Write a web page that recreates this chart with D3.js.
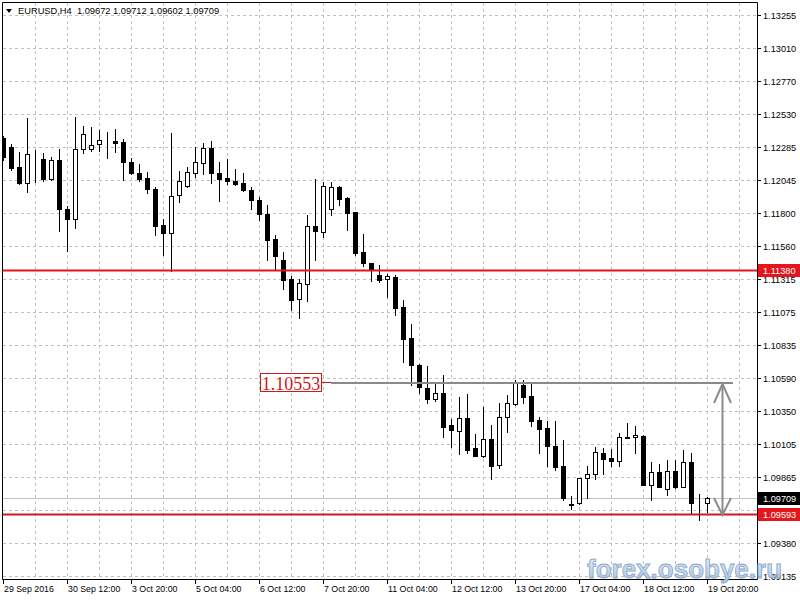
<!DOCTYPE html>
<html><head><meta charset="utf-8">
<script src="https://cdn.jsdelivr.net/npm/d3@7/dist/d3.min.js"></script>
<style>html,body{margin:0;padding:0;background:#fff;}svg{display:block;}</style>
</head><body>
<svg id="chart" width="800" height="600"></svg>
<script>
// ---- DATA ----
const symbolTitle = "EURUSD,H4";
const headerValues = "1.09672 1.09712 1.09602 1.09709";
const openP = [1.12352,1.12283,1.12137,1.12019,1.12227,1.12195,1.12048,1.12190,1.11828,1.11755,
1.12269,1.12269,1.12305,1.12337,1.12330,1.12320,1.12178,1.12097,1.12058,1.11977,
1.11711,1.11652,1.11930,1.11999,1.12098,1.12166,1.12276,1.12092,1.12056,1.12036,
1.12019,1.11970,1.11896,1.11794,1.11610,1.11456,1.11314,1.11166,1.11277,1.11705,
1.11664,1.11828,1.11992,1.11911,1.11808,1.11512,1.11431,1.11346,1.11314,1.11333,
1.11113,1.10881,1.10685,1.10513,1.10433,1.10477,1.10244,1.10202,1.10293,1.10073,
1.10016,1.10139,1.09950,1.10300,1.10396,1.10538,1.10457,1.10281,1.10220,1.10090,
1.09943,1.09667,1.09669,1.09853,1.09882,1.10036,1.09999,1.09982,1.10154,1.10154,
1.10163,1.09803,1.09897,1.09776,1.09904,1.09791,1.09970,1.09669,1.09672];
const highP = [1.12366,1.12308,1.12251,1.12501,1.12264,1.12244,1.12214,1.12271,1.11852,1.12508,
1.12440,1.12435,1.12410,1.12398,1.12416,1.12342,1.12203,1.12161,1.12104,1.11990,
1.11757,1.12391,1.12109,1.12141,1.12288,1.12313,1.12330,1.12173,1.12195,1.12122,
1.12092,1.11990,1.11921,1.11860,1.11639,1.11517,1.11338,1.11318,1.11786,1.12048,
1.12029,1.12026,1.11999,1.11921,1.11810,1.11643,1.11433,1.11419,1.11351,1.11346,
1.11162,1.10986,1.10692,1.10674,1.10560,1.10611,1.10286,1.10447,1.10472,1.10178,
1.10374,1.10244,1.10403,1.10464,1.10574,1.10574,1.10555,1.10305,1.10276,1.10273,
1.10134,1.09723,1.09855,1.09943,1.10082,1.10073,1.10066,1.10183,1.10256,1.10237,
1.10171,1.09970,1.09958,1.09987,1.09987,1.10060,1.10036,1.09735,1.09712];
const lowP = [1.12190,1.12117,1.12014,1.11957,1.12031,1.12038,1.12043,1.11671,1.11524,1.11689,
1.12244,1.12258,1.12258,1.12203,1.12251,1.12043,1.12087,1.12036,1.11950,1.11642,
1.11492,1.11377,1.11880,1.11990,1.12068,1.12087,1.12023,1.11891,1.12014,1.12007,
1.11965,1.11830,1.11750,1.11456,1.11390,1.11241,1.11089,1.11033,1.11157,1.11456,
1.11627,1.11783,1.11863,1.11676,1.11492,1.11415,1.11301,1.11292,1.11182,1.11052,
1.10709,1.10538,1.10481,1.10402,1.10420,1.10158,1.10085,1.10031,1.10041,1.10016,
1.10011,1.09845,1.09926,1.10195,1.10390,1.10403,1.10239,1.10036,1.09943,1.09914,
1.09693,1.09627,1.09661,1.09710,1.09845,1.09882,1.09943,1.09945,1.10146,1.10036,
1.09800,1.09693,1.09789,1.09730,1.09779,1.09789,1.09600,1.09546,1.09602];
const closeP = [1.12212,1.12129,1.12023,1.12234,1.12230,1.12051,1.12190,1.11828,1.11755,1.12269,
1.12381,1.12300,1.12337,1.12335,1.12317,1.12173,1.12097,1.12053,1.11975,1.11708,
1.11652,1.11928,1.12036,1.12100,1.12174,1.12276,1.12092,1.12053,1.12038,1.12016,
1.11970,1.11896,1.11790,1.11603,1.11485,1.11309,1.11162,1.11285,1.11709,1.11671,
1.11999,1.11990,1.11907,1.11803,1.11509,1.11431,1.11390,1.11309,1.11338,1.11105,
1.10876,1.10685,1.10525,1.10433,1.10477,1.10231,1.10207,1.10293,1.10060,1.10019,
1.10139,1.09943,1.10305,1.10403,1.10555,1.10452,1.10276,1.10217,1.10092,1.09938,
1.09706,1.09660,1.09853,1.09882,1.10043,1.09996,1.09982,1.10154,1.10152,1.10171,
1.09803,1.09897,1.09791,1.09908,1.09791,1.09970,1.09669,1.09672,1.09709];
const priceTicks = ["1.13255","1.13010","1.12770","1.12530","1.12285","1.12045","1.11800","1.11560","1.11315",
"1.11075","1.10835","1.10590","1.10350","1.10105","1.09865","1.09620","1.09380","1.09135"];
const timeTickIndex = [0,8,16,24,32,40,48,56,64,72,80,88];
const timeTickLabels = ["29 Sep 2016","30 Sep 12:00","3 Oct 20:00","5 Oct 04:00","6 Oct 12:00","7 Oct 20:00",
"11 Oct 04:00","12 Oct 12:00","13 Oct 20:00","17 Oct 04:00","18 Oct 12:00","19 Oct 20:00"];
const redLevels = [1.11380, 1.09593];
const bidLevel = 1.09709;
const targetLevel = 1.10553;
const targetText = "1.10553";
const watermark = "forex.osobye.ru";

// ---- LAYOUT ----
const L = 3, R = 757, T = 3, B = 579;
const svg = d3.select("#chart");
const font = "'Liberation Sans', Arial, sans-serif";
const y = d3.scaleLinear().domain([1.13255, 1.09135]).range([15, 576]);
const x = d3.scaleLinear().domain([0, 88]).range([3, 707]);
const ry = v => Math.round(y(v));
const cx = k => Math.round(x(k));

svg.append("rect").attr("width",800).attr("height",600).attr("fill","#fff");
svg.append("defs").append("clipPath").attr("id","plot")
  .append("rect").attr("x",L).attr("y",T).attr("width",R-L).attr("height",B-T);
const defs = svg.select("defs");
const grad = defs.append("linearGradient").attr("id","wm").attr("x1",0).attr("y1",0).attr("x2",0).attr("y2",1);
grad.append("stop").attr("offset","0").attr("stop-color","#e6eff9");
grad.append("stop").attr("offset","0.5").attr("stop-color","#c3d5ec");
grad.append("stop").attr("offset","1").attr("stop-color","#9fbbdf");

const plot = svg.append("g").attr("clip-path","url(#plot)");

// grid
const gridK = d3.range(4, 93, 4);
plot.selectAll("line.vg").data(gridK).enter().append("line")
  .attr("x1",k=>cx(k)+0.5).attr("x2",k=>cx(k)+0.5).attr("y1",T).attr("y2",B)
  .attr("stroke","#c0c0c0").attr("stroke-dasharray","3,3");
plot.selectAll("line.hg").data(priceTicks).enter().append("line")
  .attr("x1",L).attr("x2",R).attr("y1",d=>ry(+d)+0.5).attr("y2",d=>ry(+d)+0.5)
  .attr("stroke","#c0c0c0").attr("stroke-dasharray","3,3");

// bid line
plot.append("line").attr("x1",L).attr("x2",R).attr("y1",ry(bidLevel)+0.5).attr("y2",ry(bidLevel)+0.5)
  .attr("stroke","#c0c0c0");

// candles
const idx = d3.range(openP.length);
const cg = plot.append("g");
cg.selectAll("line.w").data(idx).enter().append("line")
  .attr("x1",k=>cx(k)+0.5).attr("x2",k=>cx(k)+0.5)
  .attr("y1",k=>ry(highP[k])).attr("y2",k=>ry(lowP[k])+1)
  .attr("stroke","#000");
cg.selectAll("rect.b").data(idx).enter().append("rect")
  .attr("x",k=>cx(k)-1.5).attr("width",4)
  .attr("y",k=>ry(Math.max(openP[k],closeP[k]))+0.5)
  .attr("height",k=>ry(Math.min(openP[k],closeP[k]))-ry(Math.max(openP[k],closeP[k])))
  .attr("fill",k=>closeP[k]>openP[k]?"#fff":"#000")
  .attr("stroke","#000");

// red horizontal levels
plot.selectAll("line.red").data(redLevels).enter().append("line")
  .attr("x1",L).attr("x2",R).attr("y1",d=>ry(d)+0.5).attr("y2",d=>ry(d)+0.5)
  .attr("stroke",(d,i)=>i===0?"#e3161c":"#c81c22").attr("stroke-width",2);

// target line + label
const ty = ry(targetLevel);
svg.append("line").attr("x1",331).attr("x2",733).attr("y1",ty).attr("y2",ty)
  .attr("stroke","#8a8a8a").attr("stroke-width",2);
svg.append("line").attr("x1",322).attr("x2",331).attr("y1",ty-0.5).attr("y2",ty-0.5)
  .attr("stroke","#d01818");
svg.append("rect").attr("x",260.5).attr("y",ty-9.5).attr("width",61).attr("height",18)
  .attr("fill","#fff").attr("stroke","#d01818");
svg.append("text").attr("x",291).attr("y",ty+7).attr("text-anchor","middle")
  .attr("font-family","'Liberation Serif', 'Times New Roman', serif").attr("font-size",18)
  .attr("fill","#d01818").text(targetText);

// arrow between levels
const ax = 722.5, ay1 = ty+1, ay2 = ry(redLevels[1])+1;
const ag = svg.append("g").attr("stroke","#8c8c8c").attr("stroke-width",2).attr("fill","none");
ag.append("line").attr("x1",ax).attr("x2",ax).attr("y1",ay1).attr("y2",ay2);
ag.append("path").attr("d",`M${ax-8.5},${ay1+19}L${ax},${ay1}L${ax+8.5},${ay1+19}`);
ag.append("path").attr("d",`M${ax-8.5},${ay2-17}L${ax},${ay2}L${ax+8.5},${ay2-17}`);

// frame
const fr = svg.append("g").attr("stroke","#000").attr("fill","none");
fr.append("line").attr("x1",L-0.5).attr("x2",L-0.5).attr("y1",T-0.5).attr("y2",B+0.5);
fr.append("line").attr("x1",L-0.5).attr("x2",R+0.5).attr("y1",T-0.5).attr("y2",T-0.5);
fr.append("line").attr("x1",R+0.5).attr("x2",R+0.5).attr("y1",T-0.5).attr("y2",B+0.5);
fr.append("line").attr("x1",L-0.5).attr("x2",R+0.5).attr("y1",B+0.5).attr("y2",B+0.5);

// y axis ticks + labels
const ya = svg.append("g");
ya.selectAll("line").data(priceTicks).enter().append("line")
  .attr("x1",R+1).attr("x2",R+4).attr("y1",d=>ry(+d)+0.5).attr("y2",d=>ry(+d)+0.5).attr("stroke","#000");
ya.selectAll("text").data(priceTicks).enter().append("text")
  .attr("x",763).attr("y",d=>ry(+d)+3.5).attr("font-family",font).attr("font-size",9.2)
  .attr("fill","#000").text(d=>d);

// x axis ticks + labels
const xa = svg.append("g");
xa.selectAll("line").data(timeTickIndex).enter().append("line")
  .attr("x1",k=>cx(k)+0.5).attr("x2",k=>cx(k)+0.5).attr("y1",B+1).attr("y2",B+5).attr("stroke","#000");
xa.selectAll("text").data(timeTickIndex).enter().append("text")
  .attr("x",k=>cx(k)+1).attr("y",592).attr("font-family",font).attr("font-size",8.8)
  .attr("fill","#000").text((k,i)=>timeTickLabels[i]);

// right-side level boxes
const boxes = [{v:bidLevel,c:"#000"},{v:redLevels[0],c:"#e3161c"},{v:redLevels[1],c:"#e3161c"}];
boxes.forEach(b=>{
  const yy = ry(b.v);
  svg.append("rect").attr("x",R+1).attr("y",yy-6).attr("width",800-R-1).attr("height",13).attr("fill",b.c);
  svg.append("text").attr("x",763).attr("y",yy+4).attr("font-family",font).attr("font-size",9.2)
    .attr("fill","#fff").text(b.v.toFixed(5));
});

// header
svg.append("path").attr("d","M6,9L12,9L9,13Z").attr("fill","#000");
svg.append("text").attr("x",18).attr("y",14).attr("font-family",font).attr("font-size",9.3)
  .attr("fill","#000").attr("xml:space","preserve").text(symbolTitle + "  " + headerValues);

// watermark
svg.append("text").attr("x",587).attr("y",578).attr("font-family","'Liberation Sans', Arial, sans-serif")
  .attr("font-weight","bold").attr("font-size",26).attr("fill","url(#wm)")
  .attr("stroke","#7f9fc6").attr("stroke-width",0.8).attr("opacity",0.92).text(watermark);
</script>
</body></html>
